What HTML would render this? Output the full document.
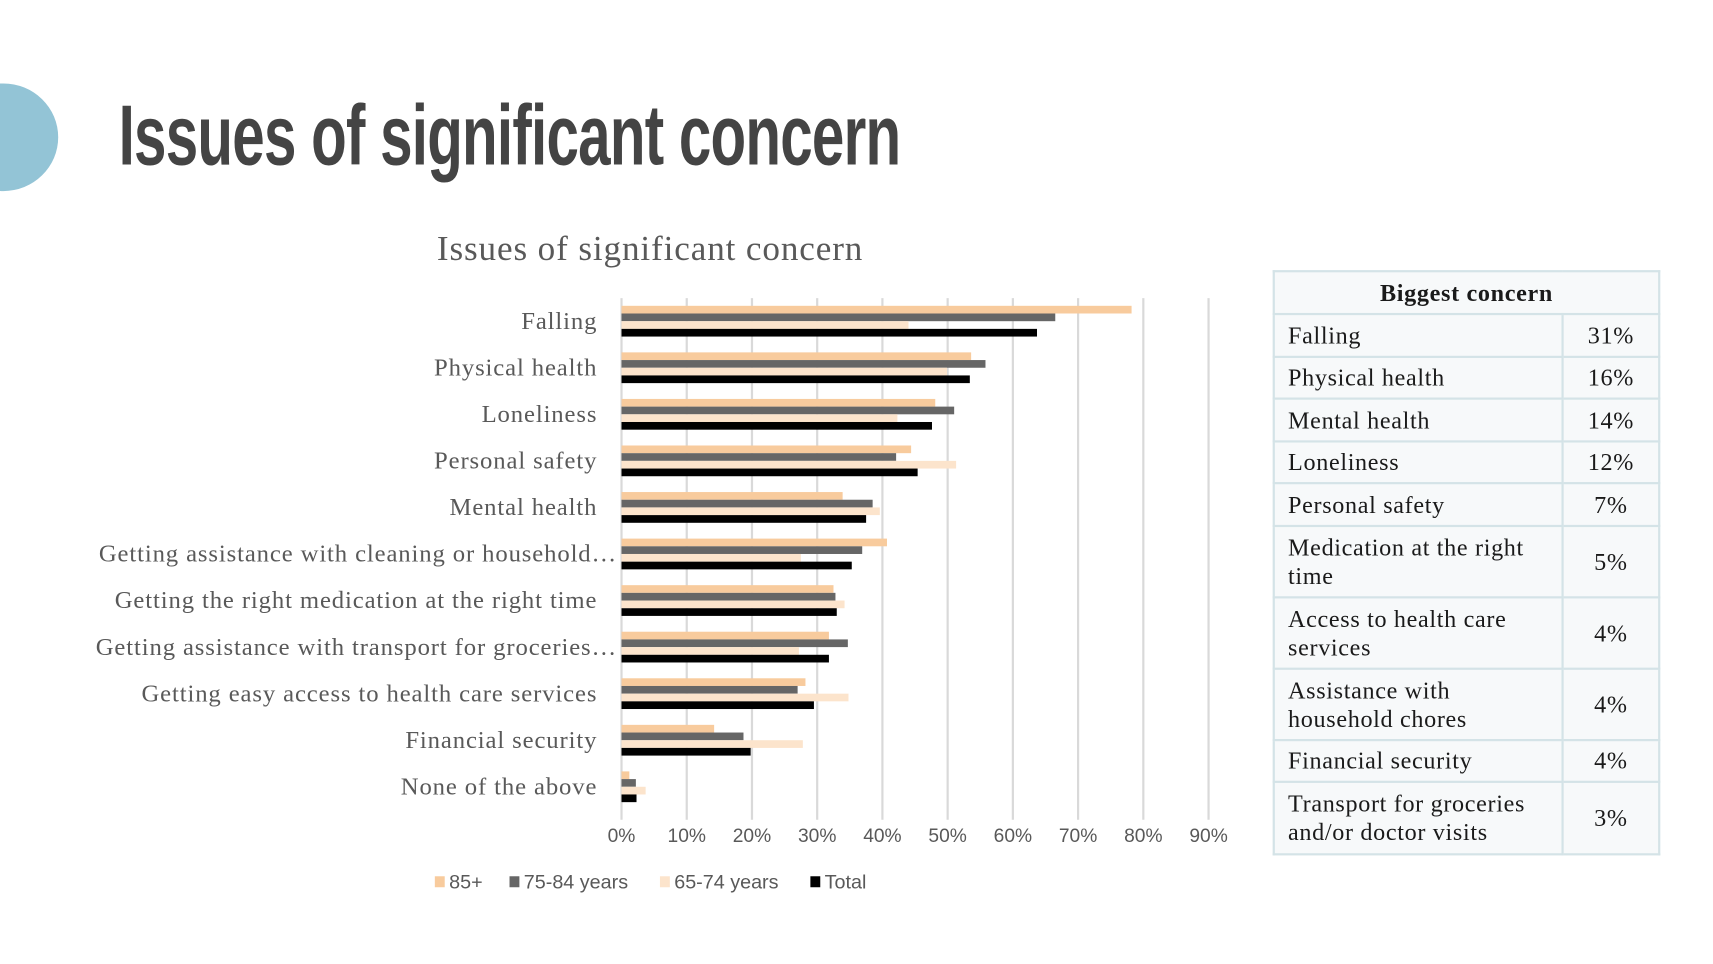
<!DOCTYPE html>
<html><head><meta charset="utf-8">
<style>
html,body{margin:0;padding:0;background:#fff;width:1713px;height:964px;overflow:hidden}
#wrap{position:absolute;left:0;top:0;width:1560px;height:878px;transform:scale(1.09808);transform-origin:0 0}
#circle{position:absolute;left:-47px;top:76px;width:100px;height:98px;border-radius:50%;background:#93c4d6}
#title{position:absolute;left:108px;top:78px;font-family:"Liberation Sans Narrow","Liberation Sans",sans-serif;font-weight:bold;font-size:78px;color:#444;white-space:nowrap;transform-origin:0 0;letter-spacing:-1px}
table{position:absolute;left:1159px;top:246px;width:353px;border-collapse:collapse;font-family:"Liberation Serif",serif;font-size:22px;letter-spacing:0.6px;color:#1a1a1a;background:#f7f9fa}
td,th{border:2px solid #d4e3e7;padding:0 6px 0 12px;line-height:26px}
th{font-weight:bold;text-align:center;padding:0}
td.p{text-align:center;width:86px;padding:0}
</style></head><body>
<div id="wrap">
<div id="circle"></div>
<div id="title">Issues of significant concern</div>
<svg id="chart" width="1160" height="878" style="position:absolute;left:0;top:0"></svg>
<table>
<tr style="height:39px"><th colspan="2">Biggest concern</th></tr>
<tr style="height:39px"><td>Falling</td><td class="p">31%</td></tr>
<tr style="height:38px"><td>Physical health</td><td class="p">16%</td></tr>
<tr style="height:39px"><td>Mental health</td><td class="p">14%</td></tr>
<tr style="height:38px"><td>Loneliness</td><td class="p">12%</td></tr>
<tr style="height:39px"><td>Personal safety</td><td class="p">7%</td></tr>
<tr style="height:65px"><td>Medication at the right time</td><td class="p">5%</td></tr>
<tr style="height:65px"><td>Access to health care services</td><td class="p">4%</td></tr>
<tr style="height:65px"><td>Assistance with household chores</td><td class="p">4%</td></tr>
<tr style="height:38px"><td>Financial security</td><td class="p">4%</td></tr>
<tr style="height:66px"><td>Transport for groceries and/or doctor visits</td><td class="p">3%</td></tr>
</table>
</div>
<script>
const categories=["Falling","Physical health","Loneliness","Personal safety","Mental health","Getting assistance with cleaning or household…","Getting the right medication at the right time","Getting assistance with transport for groceries…","Getting easy access to health care services","Financial security","None of the above"];
const seriesNames=["85+","75-84 years","65-74 years","Total"];
const s85=[78.2,53.6,48.1,44.4,33.9,40.7,32.5,31.8,28.2,14.2,1.2];
const s7584=[66.5,55.8,51.0,42.1,38.5,36.9,32.8,34.7,27.0,18.7,2.2];
const s6574=[44.0,49.9,42.3,51.3,39.6,27.5,34.2,27.2,34.8,27.8,3.7];
const sTotal=[63.7,53.4,47.6,45.4,37.5,35.3,33.0,31.8,29.5,19.8,2.3];
const ticks=[0,10,20,30,40,50,60,70,80,90];
const colors=["#f8cb9d","#666666","#fce4cc","#000000"];
const svg=document.getElementById('chart');
const NS="http://www.w3.org/2000/svg";
const x0=566,pxPer=5.94,gTop=271.5,gBot=746.5,c0=292.5,band=42.4,barH=7;
const xs=v=>x0+v*pxPer;
function mk(t,a){const e=document.createElementNS(NS,t);for(const k in a)e.setAttribute(k,a[k]);svg.appendChild(e);return e;}
let t=mk('text',{x:592,y:237,'text-anchor':'middle','font-family':'Liberation Serif, serif','font-size':32,'letter-spacing':0.8,fill:'#595959'});t.textContent="Issues of significant concern";

ticks.forEach(v=>{const l=mk('line',{x1:xs(v),x2:xs(v),y1:gTop,y2:gBot,stroke:'#d9d9d9','stroke-width':2});

const tx=mk('text',{x:xs(v),y:767,'text-anchor':'middle','font-family':'Liberation Sans, sans-serif','font-size':17.5,fill:'#595959'});tx.textContent=v+'%';
});
const series=[s85,s7584,s6574,sTotal];
categories.forEach((c,i)=>{const cy=c0+band*i;
const ax=c.endsWith('…')?562:544;
const lb=mk('text',{x:ax,y:cy+7,'text-anchor':'end','font-family':'Liberation Serif, serif','font-size':22.5,'letter-spacing':0.8,fill:'#595959'});lb.textContent=c;

series.forEach((s,j)=>{const r=mk('rect',{x:x0,y:cy-2*barH+j*barH,width:Math.max(0,xs(s[i])-x0),height:barH,fill:colors[j]});
});});
const lx=[396,464,601,738];
seriesNames.forEach((n,j)=>{const r=mk('rect',{x:lx[j],y:798,width:9,height:10,fill:colors[j]});

const tx=mk('text',{x:lx[j]+13,y:809,'font-family':'Liberation Sans, sans-serif','font-size':18,fill:'#595959'});tx.textContent=n;
});
const ti=document.getElementById('title');const w=ti.getBoundingClientRect().width/1.09808;ti.style.transform='scaleX('+(712/w)+')';
</script>
</body></html>
